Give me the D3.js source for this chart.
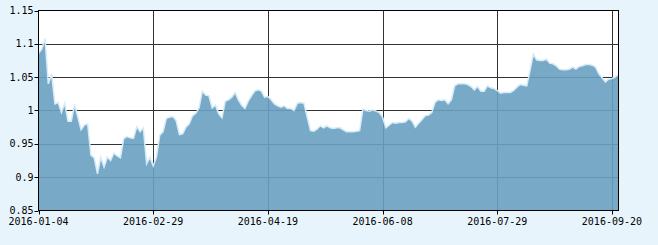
<html>
<head>
  <title>nav area</title>
</head>
<style>
  body {
    padding: 0em;
    margin: 0em;
    background-color: #e8f4fc;
  }
  text {
    font-family: "DejaVu Sans Mono", monospace;
    font-size: 10px;
    fill: #000;
  }
</style>
<body>
  <div id="chart"></div>
</body>
<script src="https://cdn.jsdelivr.net/npm/d3@7"></script>
<script>
  // x軸ラベル（35営業日ごと）
  const tickLabels = ["2016-01-04", "2016-02-29", "2016-04-19", "2016-06-08", "2016-07-29", "2016-09-20"]
  const tickStep = 35
  const yTicks = [0.85, 0.9, 0.95, 1, 1.05, 1.1, 1.15]

  // 日々の値
  const values = [
    1.086, 1.092, 1.108, 1.040, 1.055, 1.010, 1.012, 0.997, 1.011, 0.984,
    0.984, 1.009, 0.990, 0.971, 0.978, 0.980, 0.933, 0.929, 0.905, 0.930,
    0.915, 0.930, 0.925, 0.936, 0.932, 0.929, 0.958, 0.961, 0.959, 0.958,
    0.976, 0.968, 0.974, 0.920, 0.930, 0.917, 0.930, 0.963, 0.968, 0.988,
    0.990, 0.991, 0.985, 0.964, 0.965, 0.975, 0.980, 0.992, 0.996, 1.004,
    1.029, 1.023, 1.022, 1.004, 1.008, 0.995, 0.989, 1.014, 1.016, 1.020,
    1.027, 1.016, 1.008, 1.003, 1.014, 1.022, 1.029, 1.031, 1.029, 1.020,
    1.021, 1.016, 1.010, 1.007, 1.005, 1.007, 1.003, 1.003, 1.000, 1.011,
    1.012, 1.011, 0.990, 0.970, 0.969, 0.972, 0.977, 0.974, 0.977, 0.974,
    0.973, 0.974, 0.974, 0.971, 0.968, 0.968, 0.968, 0.969, 0.970, 1.002,
    1.000, 0.999, 1.001, 0.999, 0.997, 0.990, 0.974, 0.978, 0.982, 0.981,
    0.982, 0.982, 0.983, 0.988, 0.984, 0.975, 0.981, 0.986, 0.992, 0.993,
    0.997, 1.012, 1.016, 1.015, 1.016, 1.010, 1.016, 1.037, 1.040, 1.040,
    1.040, 1.039, 1.036, 1.031, 1.036, 1.029, 1.029, 1.037, 1.034, 1.033,
    1.030, 1.026, 1.027, 1.027, 1.027, 1.030, 1.035, 1.039, 1.038, 1.037,
    1.060, 1.085, 1.076, 1.075, 1.075, 1.077, 1.071, 1.070, 1.067, 1.062,
    1.061, 1.061, 1.062, 1.065, 1.062, 1.066, 1.067, 1.069, 1.069, 1.068,
    1.065, 1.055, 1.049, 1.043, 1.047, 1.048, 1.050, 1.054
  ]

  const width = 658
  const height = 245
  const pLeft = 38.5, pRight = 618.5, pTop = 10.5, pBottom = 210.5

  const svg = d3.select("#chart").append("svg")
    .attr("width", width)
    .attr("height", height)

  const x = d3.scaleLinear()
    .domain([0, values.length - 1])
    .range([pLeft, pRight])

  const y = d3.scaleLinear()
    .domain([0.85, 1.15])
    .range([pBottom, pTop])

  // プロット領域
  svg.append("rect")
    .attr("x", pLeft).attr("y", pTop)
    .attr("width", pRight - pLeft).attr("height", pBottom - pTop)
    .attr("fill", "#fff")

  // グリッド
  svg.append("g").selectAll("line").data(yTicks.slice(1, -1)).join("line")
    .attr("x1", pLeft).attr("x2", pRight)
    .attr("y1", d => Math.round(y(d)) + 0.5).attr("y2", d => Math.round(y(d)) + 0.5)
    .attr("stroke", "#333")

  svg.append("g").selectAll("line").data(tickLabels.slice(1)).join("line")
    .attr("x1", (d, i) => Math.round(x((i + 1) * tickStep)) + 0.5)
    .attr("x2", (d, i) => Math.round(x((i + 1) * tickStep)) + 0.5)
    .attr("y1", pTop).attr("y2", pBottom)
    .attr("stroke", "#333")

  // 面
  const area = d3.area()
    .x((d, i) => x(i))
    .y0(pBottom)
    .y1(d => y(d))

  svg.append("path")
    .datum(values)
    .attr("d", area)
    .attr("fill", "rgb(105,161,194)")
    .attr("fill-opacity", 0.9)

  svg.append("path")
    .datum(values)
    .attr("d", d3.line().x((d, i) => x(i)).y(d => y(d)))
    .attr("fill", "none")
    .attr("stroke", "#d6ebf8")
    .attr("stroke-width", 1.5)

  // 枠
  svg.append("rect")
    .attr("x", pLeft).attr("y", pTop)
    .attr("width", pRight - pLeft).attr("height", pBottom - pTop)
    .attr("fill", "none")
    .attr("stroke", "#000")

  // 軸
  const yAxis = svg.append("g")
  yAxis.selectAll("line").data(yTicks).join("line")
    .attr("x1", pLeft - 4).attr("x2", pLeft)
    .attr("y1", d => Math.round(y(d)) + 0.5).attr("y2", d => Math.round(y(d)) + 0.5)
    .attr("stroke", "#000")
  yAxis.selectAll("text").data(yTicks).join("text")
    .attr("x", pLeft - 5)
    .attr("y", d => y(d))
    .attr("dy", "0.35em")
    .attr("text-anchor", "end")
    .text(d => String(d))

  const xAxis = svg.append("g")
  xAxis.selectAll("line").data(tickLabels).join("line")
    .attr("x1", (d, i) => Math.round(x(i * tickStep)) + 0.5)
    .attr("x2", (d, i) => Math.round(x(i * tickStep)) + 0.5)
    .attr("y1", pBottom).attr("y2", pBottom + 4)
    .attr("stroke", "#000")
  xAxis.selectAll("text").data(tickLabels).join("text")
    .attr("x", (d, i) => x(i * tickStep))
    .attr("y", pBottom + 14)
    .attr("text-anchor", "middle")
    .text(d => d)
</script>
</html>
